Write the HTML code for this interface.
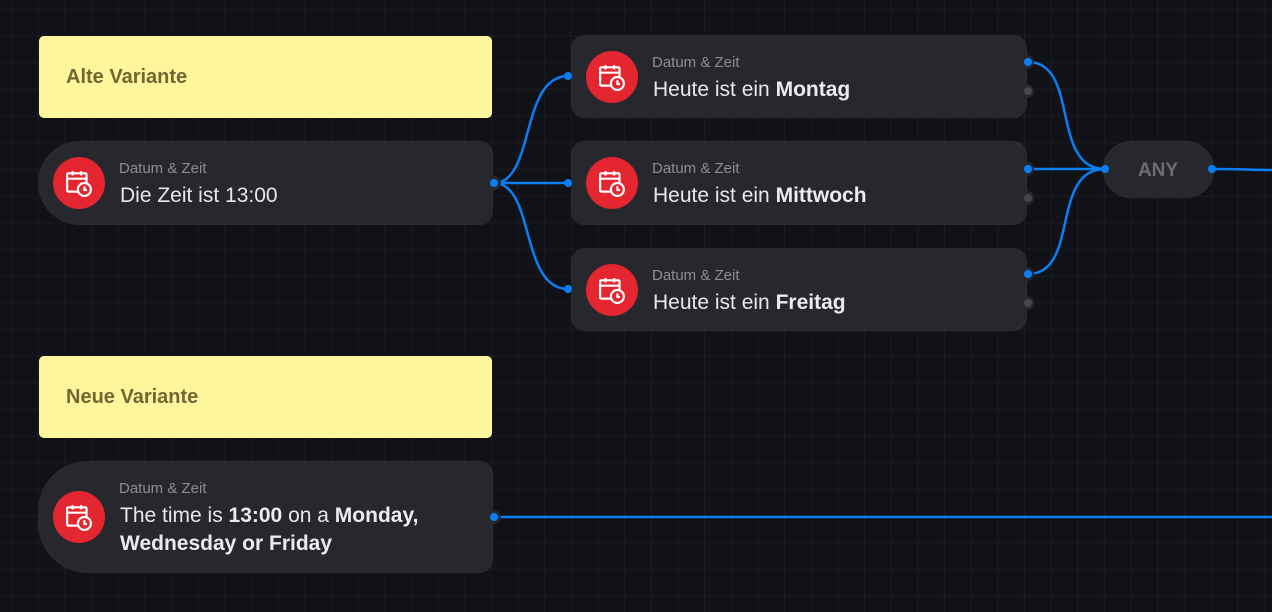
<!DOCTYPE html>
<html><head><meta charset="utf-8"><style>
*{margin:0;padding:0;box-sizing:border-box}
body{width:1272px;height:612px;overflow:hidden;background:#111217;font-family:"Liberation Sans",sans-serif;position:relative;
background-image:linear-gradient(#1a1c21 1px,transparent 1px),linear-gradient(90deg,#1a1c21 1px,transparent 1px);
background-size:26.67px 26.67px;background-position:11px 9px}
.n{position:absolute;background:#27282d;border:1px solid #2c2d32}
.note{position:absolute;background:#fff59d;border-radius:5px;color:#6e6834;font-size:20px;font-weight:bold;padding-left:27px;display:flex;align-items:center}
.ic{position:absolute;width:52px;height:52px;border-radius:50%;background:#e3262f}
.ic svg{position:absolute;left:12px;top:12px}
.s{position:absolute;color:#8d8e93;font-size:15px}
.m{position:absolute;color:#e8e8ea;font-size:21px;line-height:28px}
.m b{font-weight:bold;color:#ececee}
</style></head><body>
<div class="note" style="left:39px;top:36px;width:453px;height:82px">Alte Variante</div>
<div class="note" style="left:39px;top:356px;width:453px;height:82px">Neue Variante</div>

<div class="n" style="left:38px;top:141px;width:455px;height:84px;border-radius:42px 14px 14px 42px"></div>
<div class="n" style="left:571px;top:35px;width:456px;height:83px;border-radius:14px"></div>
<div class="n" style="left:571px;top:141px;width:456px;height:84px;border-radius:14px"></div>
<div class="n" style="left:571px;top:248px;width:456px;height:83px;border-radius:14px"></div>
<div class="n" style="left:1103px;top:141px;width:111px;height:57px;border-radius:28px"></div>
<div class="n" style="left:38px;top:461px;width:455px;height:112px;border-radius:50px 14px 14px 50px"></div>

<svg width="1272" height="612" style="position:absolute;left:0;top:0">
<g fill="none" stroke="#0a7ff5" stroke-width="2.5">
<path d="M494 183 C535 183 520 76 568 76"/>
<path d="M494 183 L568 183"/>
<path d="M494 183 C535 183 520 289 568 289"/>
<path d="M1028 62 C1080 62 1050 169 1105 169"/>
<path d="M1028 169 L1105 169"/>
<path d="M1028 274 C1080 274 1050 169 1105 169"/>
<path d="M1212 169 C1240 169 1250 170 1272 170"/>
<path d="M494 517 L1272 517"/>
</g>
<g fill="#27282d">
<circle cx="1027" cy="62" r="7"/><circle cx="1027" cy="91" r="7"/>
<circle cx="1027" cy="169" r="7"/><circle cx="1027" cy="198" r="7"/>
<circle cx="1027" cy="274" r="7"/><circle cx="1027" cy="303" r="7"/>
<circle cx="494" cy="183" r="7"/><circle cx="494" cy="517" r="7"/>
</g>
<g fill="#0a7ff5">
<circle cx="568" cy="76" r="4"/><circle cx="568" cy="183" r="4"/><circle cx="568" cy="289" r="4"/>
<circle cx="1028" cy="62" r="4"/><circle cx="1028" cy="169" r="4"/><circle cx="1028" cy="274" r="4"/>
<circle cx="494" cy="183" r="4"/><circle cx="494" cy="517" r="4"/>
<circle cx="1105" cy="169" r="4"/><circle cx="1212" cy="169" r="4"/>
</g>
<g fill="#46474c">
<circle cx="1028" cy="91" r="4"/><circle cx="1028" cy="198" r="4"/><circle cx="1028" cy="303" r="4"/>
</g>
<text x="1158" y="176" text-anchor="middle" font-family="Liberation Sans" font-weight="bold" font-size="19" fill="#6c6d72">ANY</text>
</svg>

<div class="ic" style="left:53px;top:157px"><svg width="28" height="28" viewBox="0 0 26 26" fill="none" stroke="#fff" stroke-width="2"><rect x="2" y="4" width="18" height="17" rx="1"/><line x1="2" y1="9" x2="20" y2="9"/><line x1="7" y1="2" x2="7" y2="6"/><line x1="15" y1="2" x2="15" y2="6"/><circle cx="18" cy="19" r="6" fill="#e3262f"/><path d="M18 16v3.5h2.5"/></svg></div>
<div class="ic" style="left:586px;top:51px"><svg width="28" height="28" viewBox="0 0 26 26" fill="none" stroke="#fff" stroke-width="2"><rect x="2" y="4" width="18" height="17" rx="1"/><line x1="2" y1="9" x2="20" y2="9"/><line x1="7" y1="2" x2="7" y2="6"/><line x1="15" y1="2" x2="15" y2="6"/><circle cx="18" cy="19" r="6" fill="#e3262f"/><path d="M18 16v3.5h2.5"/></svg></div>
<div class="ic" style="left:586px;top:157px"><svg width="28" height="28" viewBox="0 0 26 26" fill="none" stroke="#fff" stroke-width="2"><rect x="2" y="4" width="18" height="17" rx="1"/><line x1="2" y1="9" x2="20" y2="9"/><line x1="7" y1="2" x2="7" y2="6"/><line x1="15" y1="2" x2="15" y2="6"/><circle cx="18" cy="19" r="6" fill="#e3262f"/><path d="M18 16v3.5h2.5"/></svg></div>
<div class="ic" style="left:586px;top:264px"><svg width="28" height="28" viewBox="0 0 26 26" fill="none" stroke="#fff" stroke-width="2"><rect x="2" y="4" width="18" height="17" rx="1"/><line x1="2" y1="9" x2="20" y2="9"/><line x1="7" y1="2" x2="7" y2="6"/><line x1="15" y1="2" x2="15" y2="6"/><circle cx="18" cy="19" r="6" fill="#e3262f"/><path d="M18 16v3.5h2.5"/></svg></div>
<div class="ic" style="left:53px;top:491px"><svg width="28" height="28" viewBox="0 0 26 26" fill="none" stroke="#fff" stroke-width="2"><rect x="2" y="4" width="18" height="17" rx="1"/><line x1="2" y1="9" x2="20" y2="9"/><line x1="7" y1="2" x2="7" y2="6"/><line x1="15" y1="2" x2="15" y2="6"/><circle cx="18" cy="19" r="6" fill="#e3262f"/><path d="M18 16v3.5h2.5"/></svg></div>

<div class="s" style="left:119px;top:160px">Datum &amp; Zeit</div>
<div class="m" style="left:120px;top:182px">Die Zeit ist 13:00</div>
<div class="s" style="left:652px;top:54px">Datum &amp; Zeit</div>
<div class="m" style="left:653px;top:76px">Heute ist ein <b>Montag</b></div>
<div class="s" style="left:652px;top:160px">Datum &amp; Zeit</div>
<div class="m" style="left:653px;top:182px">Heute ist ein <b>Mittwoch</b></div>
<div class="s" style="left:652px;top:267px">Datum &amp; Zeit</div>
<div class="m" style="left:653px;top:289px">Heute ist ein <b>Freitag</b></div>
<div class="s" style="left:119px;top:480px">Datum &amp; Zeit</div>
<div class="m" style="left:120px;top:502px;width:350px">The time is <b>13:00</b> on a <b>Monday,<br>Wednesday or Friday</b></div>
</body></html>
